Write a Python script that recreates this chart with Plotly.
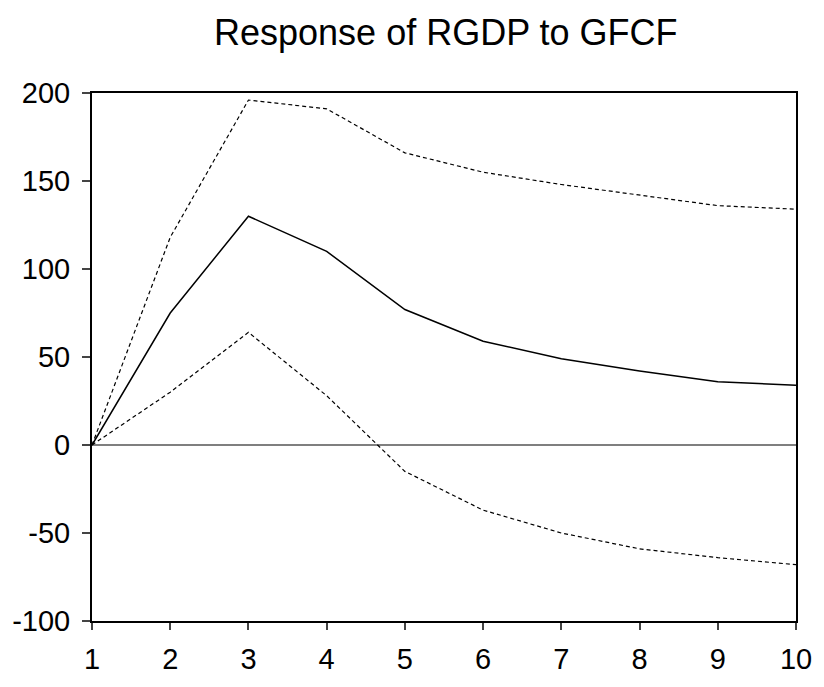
import plotly.graph_objects as go

periods = [1, 2, 3, 4, 5, 6, 7, 8, 9, 10]
response = [0, 75, 130, 110, 77, 59, 49, 42, 36, 34]
upper_band = [0, 118, 196, 191, 166, 155, 148, 142, 136, 134]
lower_band = [0, 30, 64, 28, -15, -37, -50, -59, -64, -68]

y_ticks = [-100, -50, 0, 50, 100, 150, 200]
y_labels = ["-100", "-50", "0", "50", "100", "150", "200"]

fig = go.Figure()
fig.add_hline(y=0, line={"color": "black", "width": 1.2})
for band in (upper_band, lower_band):
    fig.add_trace(go.Scatter(
        x=periods, y=band, mode="lines",
        line={"color": "black", "width": 1.2, "dash": "4px,3px"},
        showlegend=False,
    ))
fig.add_trace(go.Scatter(
    x=periods, y=response, mode="lines",
    line={"color": "black", "width": 1.5},
    showlegend=False,
))

fig.update_layout(
    width=824, height=687,
    margin={"l": 90, "r": 19, "t": 93, "b": 51},
    paper_bgcolor="white", plot_bgcolor="white",
    font={"family": "Liberation Sans, Arial", "color": "black", "size": 29},
    title={"text": "Response of RGDP to GFCF", "x": 0.541, "xanchor": "center",
           "y": 0.953, "yanchor": "middle", "font": {"size": 36}},
)
fig.update_xaxes(
    range=[1, 10], tickvals=periods, ticks="outside", ticklen=7, tickwidth=1.5,
    ticklabelstandoff=4,
    showgrid=False, zeroline=False, showline=True, linecolor="black", linewidth=2,
    mirror=True,
)
fig.update_yaxes(
    range=[-100, 200], tickvals=y_ticks, ticktext=y_labels, ticks="outside",
    ticklen=8, tickwidth=1.5, ticklabelstandoff=6,
    showgrid=False, zeroline=False, showline=True, linecolor="black", linewidth=2,
    mirror=True,
)

# drop the default 8px body margin so the figure sits at the page corner
fig.write_html(
    "out.html",
    config={"displayModeBar": False},
    post_script="document.body.style.margin = '0';",
)
